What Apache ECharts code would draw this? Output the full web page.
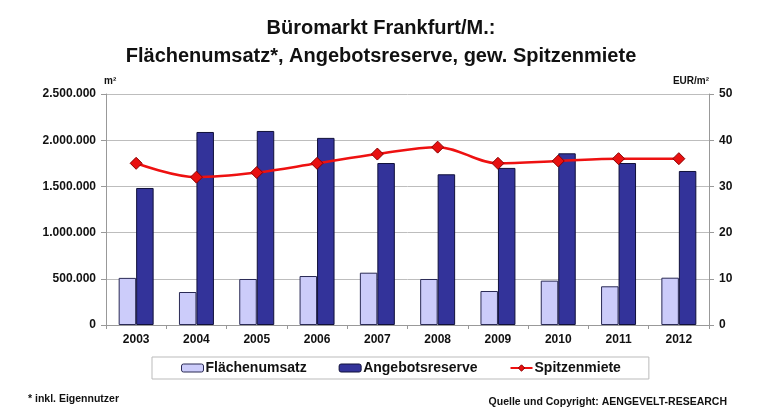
<!DOCTYPE html>
<html>
<head>
<meta charset="utf-8">
<script src="https://cdn.jsdelivr.net/npm/echarts@6/dist/echarts.min.js"></script>
<style>
  html,body{margin:0;padding:0;background:#fff;}
  #main{width:762px;height:413px;}
</style>
</head>
<body>
<div id="main"></div>
<script>
// Daten
var jahre = ['2003','2004','2005','2006','2007','2008','2009','2010','2011','2012'];
var flaechenumsatz = [510000,357000,498000,530000,566000,498000,368000,480000,419000,512000];
var angebotsreserve = [1483000,2089000,2100000,2025000,1753000,1631000,1700000,1858000,1753000,1667000];
var spitzenmiete = [35,32,33,35,37,38.5,35,35.5,36,36];
var linksTicks = [0,500000,1000000,1500000,2000000,2500000];
var rechtsTicks = [0,10,20,30,40,50];

var myChart = echarts.init(document.getElementById('main'));

function fmtDe(v){
  return String(v).replace(/\B(?=(\d{3})+(?!\d))/g, '.');
}

var fnt = 'Liberation Sans, Arial, sans-serif';

var option = {
  animation: false,
  title: {
    text: 'Büromarkt Frankfurt/M.:\nFlächenumsatz*, Angebotsreserve, gew. Spitzenmiete',
    left: 'center',
    top: 9,
    textStyle: {fontFamily: fnt, fontSize: 20, fontWeight: 'bold', color: '#111', lineHeight: 28}
  },
  legend: {
    data: ['Flächenumsatz','Angebotsreserve','Spitzenmiete'],
    left: 152,
    top: 357,
    padding: [4, 28, 4, 29],
    itemGap: 32,
    itemWidth: 22,
    itemHeight: 8,
    itemStyle: {borderWidth: 1},
    borderColor: '#bbbbbb',
    borderWidth: 1,
    textStyle: {fontFamily: fnt, fontSize: 14, fontWeight: 'bold', color: '#111', padding: [0,0,0,-3]}
  },
  grid: {left: 106, right: 53, top: 94, bottom: 88},
  xAxis: {
    type: 'category',
    data: jahre,
    axisLine: {lineStyle: {color: '#999', width: 1}},
    axisTick: {show: true, length: 4, lineStyle: {color: '#999'}},
    axisLabel: {fontFamily: fnt, fontSize: 12, fontWeight: 'bold', color: '#111', margin: 9}
  },
  yAxis: [
    {
      type: 'value',
      name: 'm²',
      nameLocation: 'end',
      nameGap: 8,
      nameTextStyle: {fontFamily: fnt, fontSize: 10, fontWeight: 'bold', color: '#111', align: 'left', padding: [0,0,0,-2]},
      min: linksTicks[0],
      max: linksTicks[linksTicks.length-1],
      interval: 500000,
      axisLine: {show: true, lineStyle: {color: '#999'}},
      axisTick: {show: true, length: 5, lineStyle: {color: '#999'}},
      splitLine: {lineStyle: {color: '#bdbdbd', width: 1}},
      axisLabel: {fontFamily: fnt, fontSize: 12, fontWeight: 'bold', color: '#111', margin: 10, formatter: fmtDe}
    },
    {
      type: 'value',
      name: 'EUR/m²',
      nameLocation: 'end',
      nameGap: 8,
      nameTextStyle: {fontFamily: fnt, fontSize: 10, fontWeight: 'bold', color: '#111', align: 'right', padding: [0,0,0,0]},
      min: rechtsTicks[0],
      max: rechtsTicks[rechtsTicks.length-1],
      interval: 10,
      position: 'right',
      axisLine: {show: true, lineStyle: {color: '#999'}},
      axisTick: {show: true, length: 5, lineStyle: {color: '#999'}},
      splitLine: {show: false},
      axisLabel: {fontFamily: fnt, fontSize: 12, fontWeight: 'bold', color: '#111', margin: 10}
    }
  ],
  series: [
    {
      name: 'Flächenumsatz',
      type: 'bar',
      data: flaechenumsatz,
      barGap: '0%',
      barCategoryGap: '42%',
      itemStyle: {color: '#ccccfa', borderColor: '#2a2a55', borderWidth: 1}
    },
    {
      name: 'Angebotsreserve',
      type: 'bar',
      data: angebotsreserve,
      itemStyle: {color: '#33339a', borderColor: '#10103a', borderWidth: 1}
    },
    {
      name: 'Spitzenmiete',
      type: 'line',
      yAxisIndex: 1,
      data: spitzenmiete,
      smooth: 0.35,
      symbol: 'diamond',
      symbolSize: 12,
      lineStyle: {color: '#ee1111', width: 2.5},
      itemStyle: {color: '#e81010', borderColor: '#8a0000', borderWidth: 1}
    }
  ],
  graphic: [
    {type: 'text', left: 28, top: 394, style: {text: '* inkl. Eigennutzer', fontFamily: fnt, fontSize: 10.5, fontWeight: 'bold', fill: '#111'}},
    {type: 'text', right: 35, top: 397, style: {text: 'Quelle und Copyright: AENGEVELT-RESEARCH', fontFamily: fnt, fontSize: 10.5, fontWeight: 'bold', fill: '#111'}}
  ]
};

myChart.setOption(option);
</script>
</body>
</html>
